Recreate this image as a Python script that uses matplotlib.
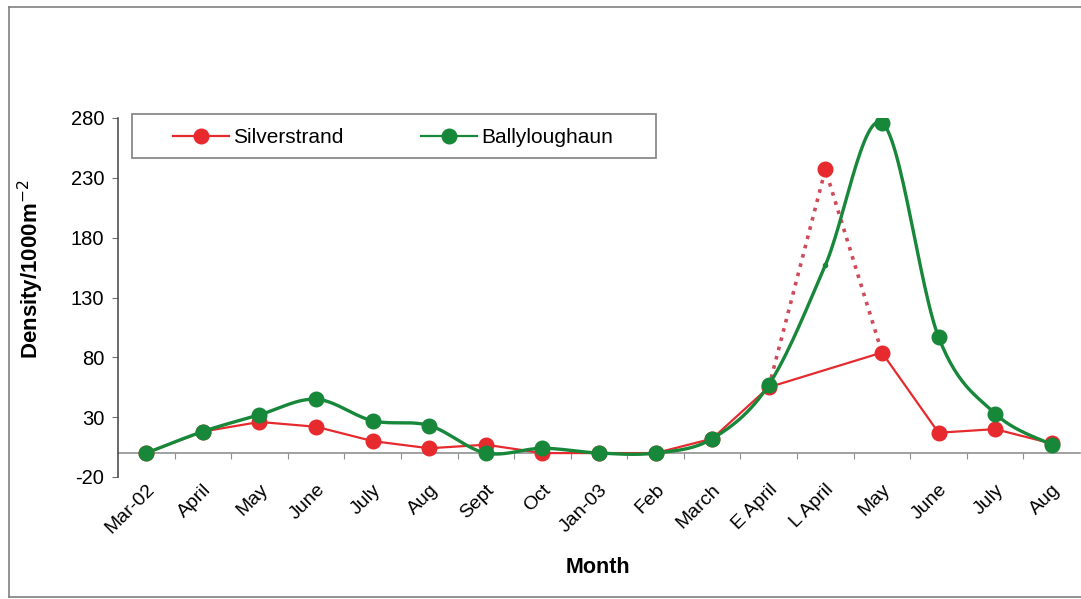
import numpy as np
import matplotlib.pyplot as plt
from matplotlib.patches import Rectangle
from matplotlib.lines import Line2D

months = ['Mar-02', 'April', 'May', 'June', 'July', 'Aug', 'Sept', 'Oct', 'Jan-03',
          'Feb', 'March', 'E April', 'L April', 'May', 'June', 'July', 'Aug']
silverstrand = [0, 18, 26, 22, 10, 4, 7, 0, 0, 0, 12, 55, 237, 84, 17, 20, 8]
ballyloughaun = [0, 18, 32, 45, 27, 23, 0, 4, 0, 0, 12, 57, 157, 276, 97, 33, 7]

RED = '#e62a2e'
GREEN = '#17873a'

plt.rcParams['font.family'] = ['Liberation Sans', 'DejaVu Sans']
plt.rcParams['axes.unicode_minus'] = False


def smooth(x, y, n=30):
    # excel style smoothed line (bezier through the points)
    x = np.asarray(x, float)
    y = np.asarray(y, float)
    px, py = [], []
    for i in range(len(x) - 1):
        i0 = max(i - 1, 0)
        i3 = min(i + 2, len(x) - 1)
        c1x = x[i] + (x[i + 1] - x[i0]) / 6
        c1y = y[i] + (y[i + 1] - y[i0]) / 6
        c2x = x[i + 1] - (x[i3] - x[i]) / 6
        c2y = y[i + 1] - (y[i3] - y[i]) / 6
        t = np.linspace(0, 1, n)
        px.extend((1 - t) ** 3 * x[i] + 3 * (1 - t) ** 2 * t * c1x + 3 * (1 - t) * t ** 2 * c2x + t ** 3 * x[i + 1])
        py.extend((1 - t) ** 3 * y[i] + 3 * (1 - t) ** 2 * t * c1y + 3 * (1 - t) * t ** 2 * c2y + t ** 3 * y[i + 1])
    return px, py


fig = plt.figure(figsize=(10.81, 5.99), dpi=100)
ax = fig.add_axes([118 / 1081, 122 / 599, 962 / 1081, 359 / 599])

xs = np.arange(len(months))
lapr = months.index('L April')

# red: solid line skips L April, dotted detour through it
keep = [i for i in xs if i != lapr]
ax.plot(xs[keep], np.array(silverstrand)[keep], color=RED, lw=1.6, zorder=3)
ax.plot(xs[keep], np.array(silverstrand)[keep], 'o', color=RED, ms=10.5, zorder=3)
ax.plot(xs[lapr - 1:lapr + 2], silverstrand[lapr - 1:lapr + 2], ':', color='#d04a5a', lw=2.6, zorder=2)
ax.plot(xs[lapr], silverstrand[lapr], 'o', color=RED, ms=10.5, zorder=3)

sx, sy = smooth(xs, ballyloughaun)
ax.plot(sx, sy, color=GREEN, lw=2.4, zorder=4)
ax.plot(xs[keep], np.array(ballyloughaun)[keep], 'o', color=GREEN, ms=10.5, zorder=4)
ax.plot(xs[lapr], ballyloughaun[lapr], 'o', color=GREEN, ms=3, zorder=4)

# legend
hs = [Line2D([], [], color=RED, lw=1.6, marker='o', ms=10.5),
      Line2D([], [], color=GREEN, lw=1.6, marker='o', ms=10.5)]
ax.legend(hs, ['Silverstrand', 'Ballyloughaun'], loc='center left', bbox_to_anchor=(0.0572, 0.945),
          ncol=2, frameon=False, fontsize=15, handlelength=2.7, handletextpad=0.2,
          columnspacing=3.7, borderpad=0, borderaxespad=0)
ax.add_patch(Rectangle((0.01455, 0.8886), 0.5448, 0.1225, transform=ax.transAxes, fill=False,
                       edgecolor='#808080', lw=1.2, clip_on=False, zorder=5))

ax.set_xlim(-0.5, len(months) - 0.5)
ax.set_ylim(-20, 280)
ax.set_yticks(np.arange(-20, 281, 50))
ax.tick_params(axis='y', labelsize=14.5, length=4, color='#707070', pad=6)
ax.set_xticks(xs)
ax.set_xticklabels(months, rotation=45, ha='right', rotation_mode='anchor', fontsize=14)
ax.tick_params(axis='x', length=0, pad=3)
for s in ['top', 'right', 'bottom']:
    ax.spines[s].set_visible(False)
ax.spines['left'].set_color('#505050')
ax.spines['left'].set_linewidth(1.2)

# category axis crossing at zero
sec = ax.secondary_xaxis(20 / 300)
sec.set_xticks(np.arange(0.5, len(months) - 1, 1))
sec.tick_params(length=4, color='#909090', labelbottom=False)
sec.spines['bottom'].set_color('#909090')
sec.spines['bottom'].set_linewidth(1.2)

ax.set_ylabel('Density/1000m$^{-2}$', fontsize=16, fontweight='bold')
ax.yaxis.set_label_coords(-0.075, 0.579)
ax.set_xlabel('Month', fontsize=15.5, fontweight='bold')
ax.xaxis.set_label_coords(0.499, -0.222)

# outer frame (left, top, bottom)
for xd, yd in [([9, 9], [2, 592]), ([9, 1081], [592, 592]), ([9, 1081], [2, 2])]:
    fig.lines.append(Line2D(np.array(xd) / 1081, np.array(yd) / 599, transform=fig.transFigure,
                            color='#808080', lw=1.2))

fig.savefig('out.png', dpi=100)
